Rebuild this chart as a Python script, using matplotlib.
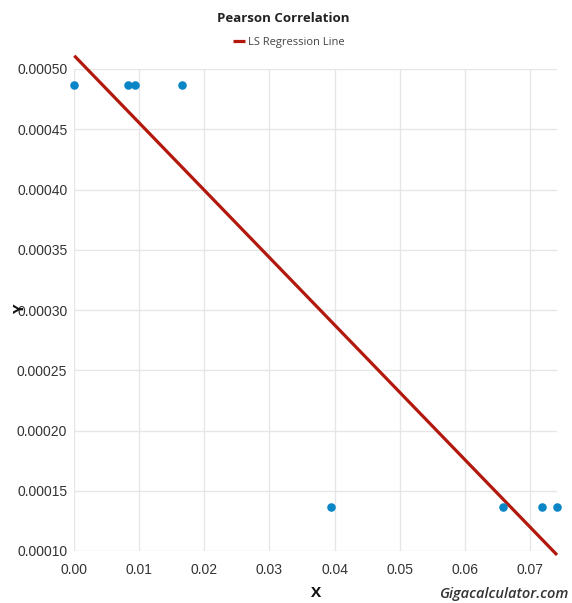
import numpy as np
import matplotlib.pyplot as plt

# Observaciones (x, y)
x_vals = [0.0, 0.0083, 0.0093, 0.0165, 0.0394, 0.0659, 0.0719, 0.0742]
y_vals = [0.0004867, 0.0004867, 0.0004867, 0.0004867,
          0.0001368, 0.0001368, 0.0001368, 0.0001368]

x_ticks = [0.00, 0.01, 0.02, 0.03, 0.04, 0.05, 0.06, 0.07]
y_ticks = [0.00010, 0.00015, 0.00020, 0.00025, 0.00030,
           0.00035, 0.00040, 0.00045, 0.00050]

x = np.array(x_vals)
y = np.array(y_vals)

# Recta de mínimos cuadrados
pendiente, ordenada = np.polyfit(x, y, 1)
x_linea = np.array([x.min(), x.max()])
y_linea = ordenada + pendiente * x_linea

W, H = 572, 603
izq, der, arriba, abajo = 74.3, 557, 69, 551

fig = plt.figure(figsize=(W / 100, H / 100), dpi=100)
ax = fig.add_axes([izq / W, 1 - abajo / H, (der - izq) / W, (abajo - arriba) / H])

ax.plot(x_linea, y_linea, color='#b2180c', lw=2.3, clip_on=False, zorder=3,
        label='LS Regression Line', solid_capstyle='butt')
ax.scatter(x, y, s=38, color='#0a86c6', clip_on=False, zorder=4, linewidths=0)

ax.set_xlim(0, x.max())
ax.set_ylim(0.0001, 0.0005)
ax.set_xticks(x_ticks)
ax.set_yticks(y_ticks)
ax.set_xticklabels([f'{v:.2f}' for v in x_ticks])
ax.set_yticklabels([f'{v:.5f}' for v in y_ticks])
ax.tick_params(length=0, labelsize=10, colors='#333333', pad=5,
               labelfontfamily='Liberation Sans')
ax.tick_params(axis='x', pad=9)

ax.grid(True, color='#e6e6e6', lw=1)
ax.set_axisbelow(True)
for s in ax.spines.values():
    s.set_visible(False)

ax.set_xlabel('X', fontsize=11, fontweight='bold', family='Open Sans',
              labelpad=6, color='#111111')
fig.text(20 / W, 1 - 308 / H, 'Y', rotation=90, ha='center', va='center',
         fontsize=11, fontweight='bold', family='Open Sans', color='#111111')

fig.text(0.495, 1 - 19 / H, 'Pearson Correlation', ha='center', va='center',
         fontsize=9.5, fontweight='bold', family='Open Sans', color='#222222')
fig.legend(loc='center', bbox_to_anchor=(0.505, 1 - 42 / H),
           frameon=False, handlelength=1.1, handletextpad=0.3,
           prop={'family': 'Open Sans', 'size': 8}, labelcolor='#444444')
fig.text(0.993, 1 - 594 / H, 'Gigacalculator.com', ha='right', va='center',
         fontsize=10.5, fontstyle='italic', fontweight='semibold',
         family='Open Sans', color='#333333')

fig.savefig('out.png', dpi=100)
